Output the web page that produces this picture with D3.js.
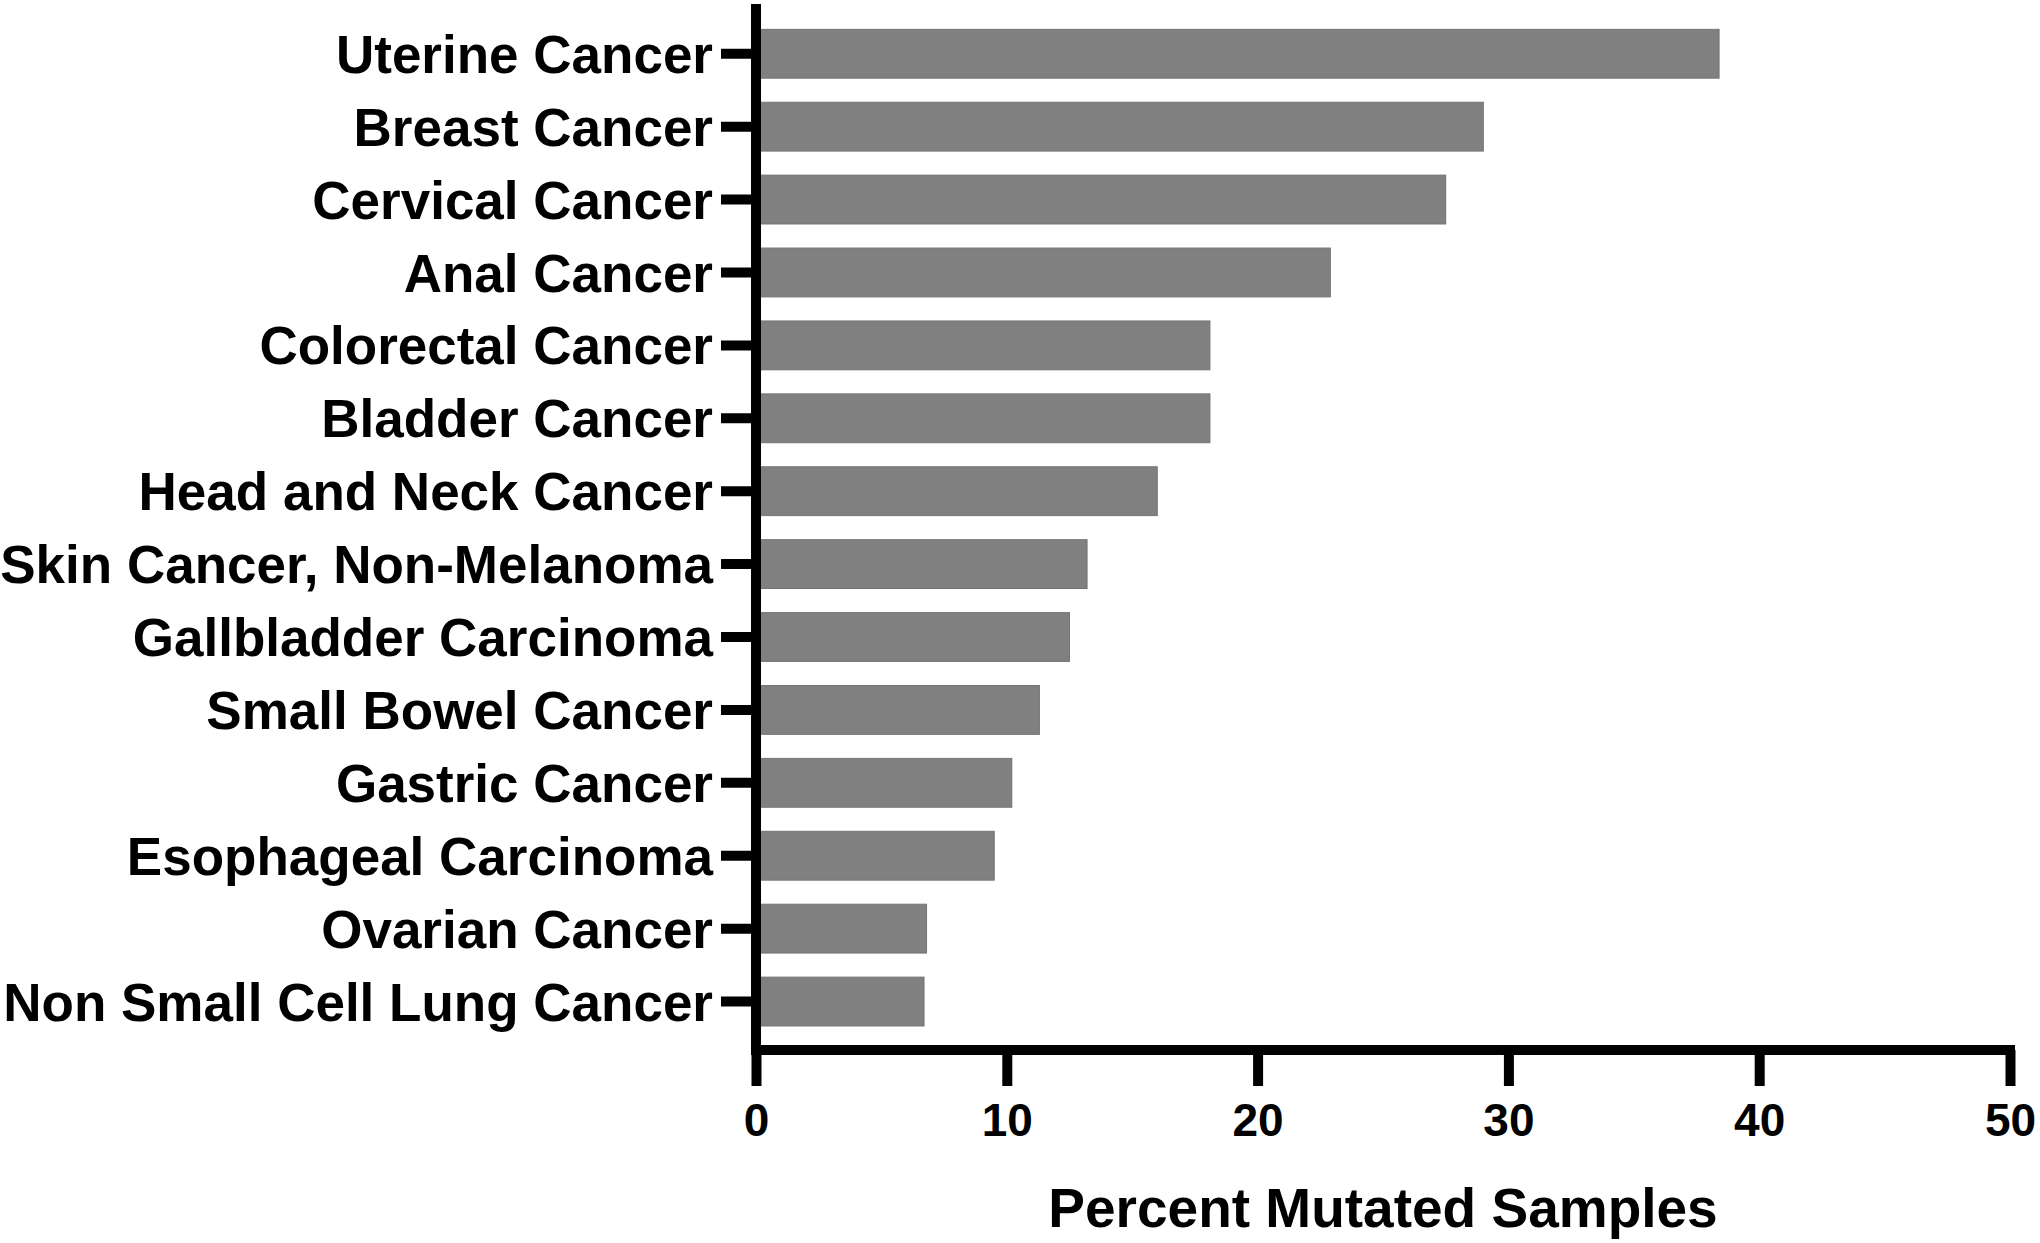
<!DOCTYPE html>
<html>
<head>
<meta charset="utf-8">
<script src="https://cdn.jsdelivr.net/npm/d3@7"></script>
<style>
  html, body { margin: 0; padding: 0; background: #fff; }
  svg { display: block; font-family: "Liberation Sans", Arial, sans-serif; font-weight: bold; }
</style>
</head>
<body>
<script>
// categories top to bottom, percent of mutated samples
const cancers = [
  'Uterine Cancer', 'Breast Cancer', 'Cervical Cancer', 'Anal Cancer',
  'Colorectal Cancer', 'Bladder Cancer', 'Head and Neck Cancer',
  'Skin Cancer, Non-Melanoma', 'Gallbladder Carcinoma', 'Small Bowel Cancer',
  'Gastric Cancer', 'Esophageal Carcinoma', 'Ovarian Cancer',
  'Non Small Cell Lung Cancer'
];
const percentMutated = [38.4, 29.0, 27.5, 22.9, 18.1, 18.1, 16.0, 13.2, 12.5, 11.3, 10.2, 9.5, 6.8, 6.7];
const xTicks = [0, 10, 20, 30, 40, 50];
const xTitle = 'Percent Mutated Samples';

const FONT = '"Liberation Sans", Arial, sans-serif';
const W = 2040, H = 1243;
const svg = d3.select('body').append('svg').attr('width', W).attr('height', H);

const x = d3.scaleLinear().domain([0, 50]).range([756, 2010]);
const y = d3.scaleBand().domain(cancers).range([17.3, 1038]).paddingInner(0.33).paddingOuter(0.165);

// bars
svg.append('g').selectAll('rect')
  .data(cancers.map((c, i) => ({ c, v: percentMutated[i] })))
  .join('rect')
  .attr('x', x(0))
  .attr('y', d => y(d.c))
  .attr('width', d => x(d.v) - x(0))
  .attr('height', y.bandwidth())
  .attr('fill', '#808080')
  .attr('stroke', '#747474')
  .attr('stroke-width', 1);

// y axis
const gy = svg.append('g').attr('transform', `translate(${x(0)},0)`)
  .call(d3.axisLeft(y).tickSize(35).tickSizeOuter(0).tickPadding(8))
  .attr('font-family', FONT);
gy.select('.domain').remove();
gy.selectAll('.tick line').attr('stroke', '#000').attr('stroke-width', 10);
gy.selectAll('.tick text')
  .attr('fill', '#000')
  .style('font-size', '53px')
  .attr('dy', '0.36em');

// x axis
const axisY = 1050;
const gx = svg.append('g').attr('transform', `translate(0,${axisY})`)
  .call(d3.axisBottom(x).tickValues(xTicks).tickSize(36).tickSizeOuter(0).tickPadding(17))
  .attr('font-family', FONT);
gx.select('.domain').remove();
gx.selectAll('.tick line').attr('stroke', '#000').attr('stroke-width', 10);
gx.selectAll('.tick text')
  .attr('fill', '#000')
  .style('font-size', '46px');

// axis lines
svg.append('line')
  .attr('x1', x(0)).attr('x2', x(0))
  .attr('y1', 4).attr('y2', axisY + 5)
  .attr('stroke', '#000').attr('stroke-width', 10);
svg.append('line')
  .attr('x1', x(0) - 5).attr('x2', x(50) + 5)
  .attr('y1', axisY).attr('y2', axisY)
  .attr('stroke', '#000').attr('stroke-width', 10);

// x title
svg.append('text')
  .attr('x', (x(0) + x(50)) / 2)
  .attr('y', 1227)
  .attr('text-anchor', 'middle')
  .style('font-size', '55px')
  .text(xTitle);
</script>
</body>
</html>
